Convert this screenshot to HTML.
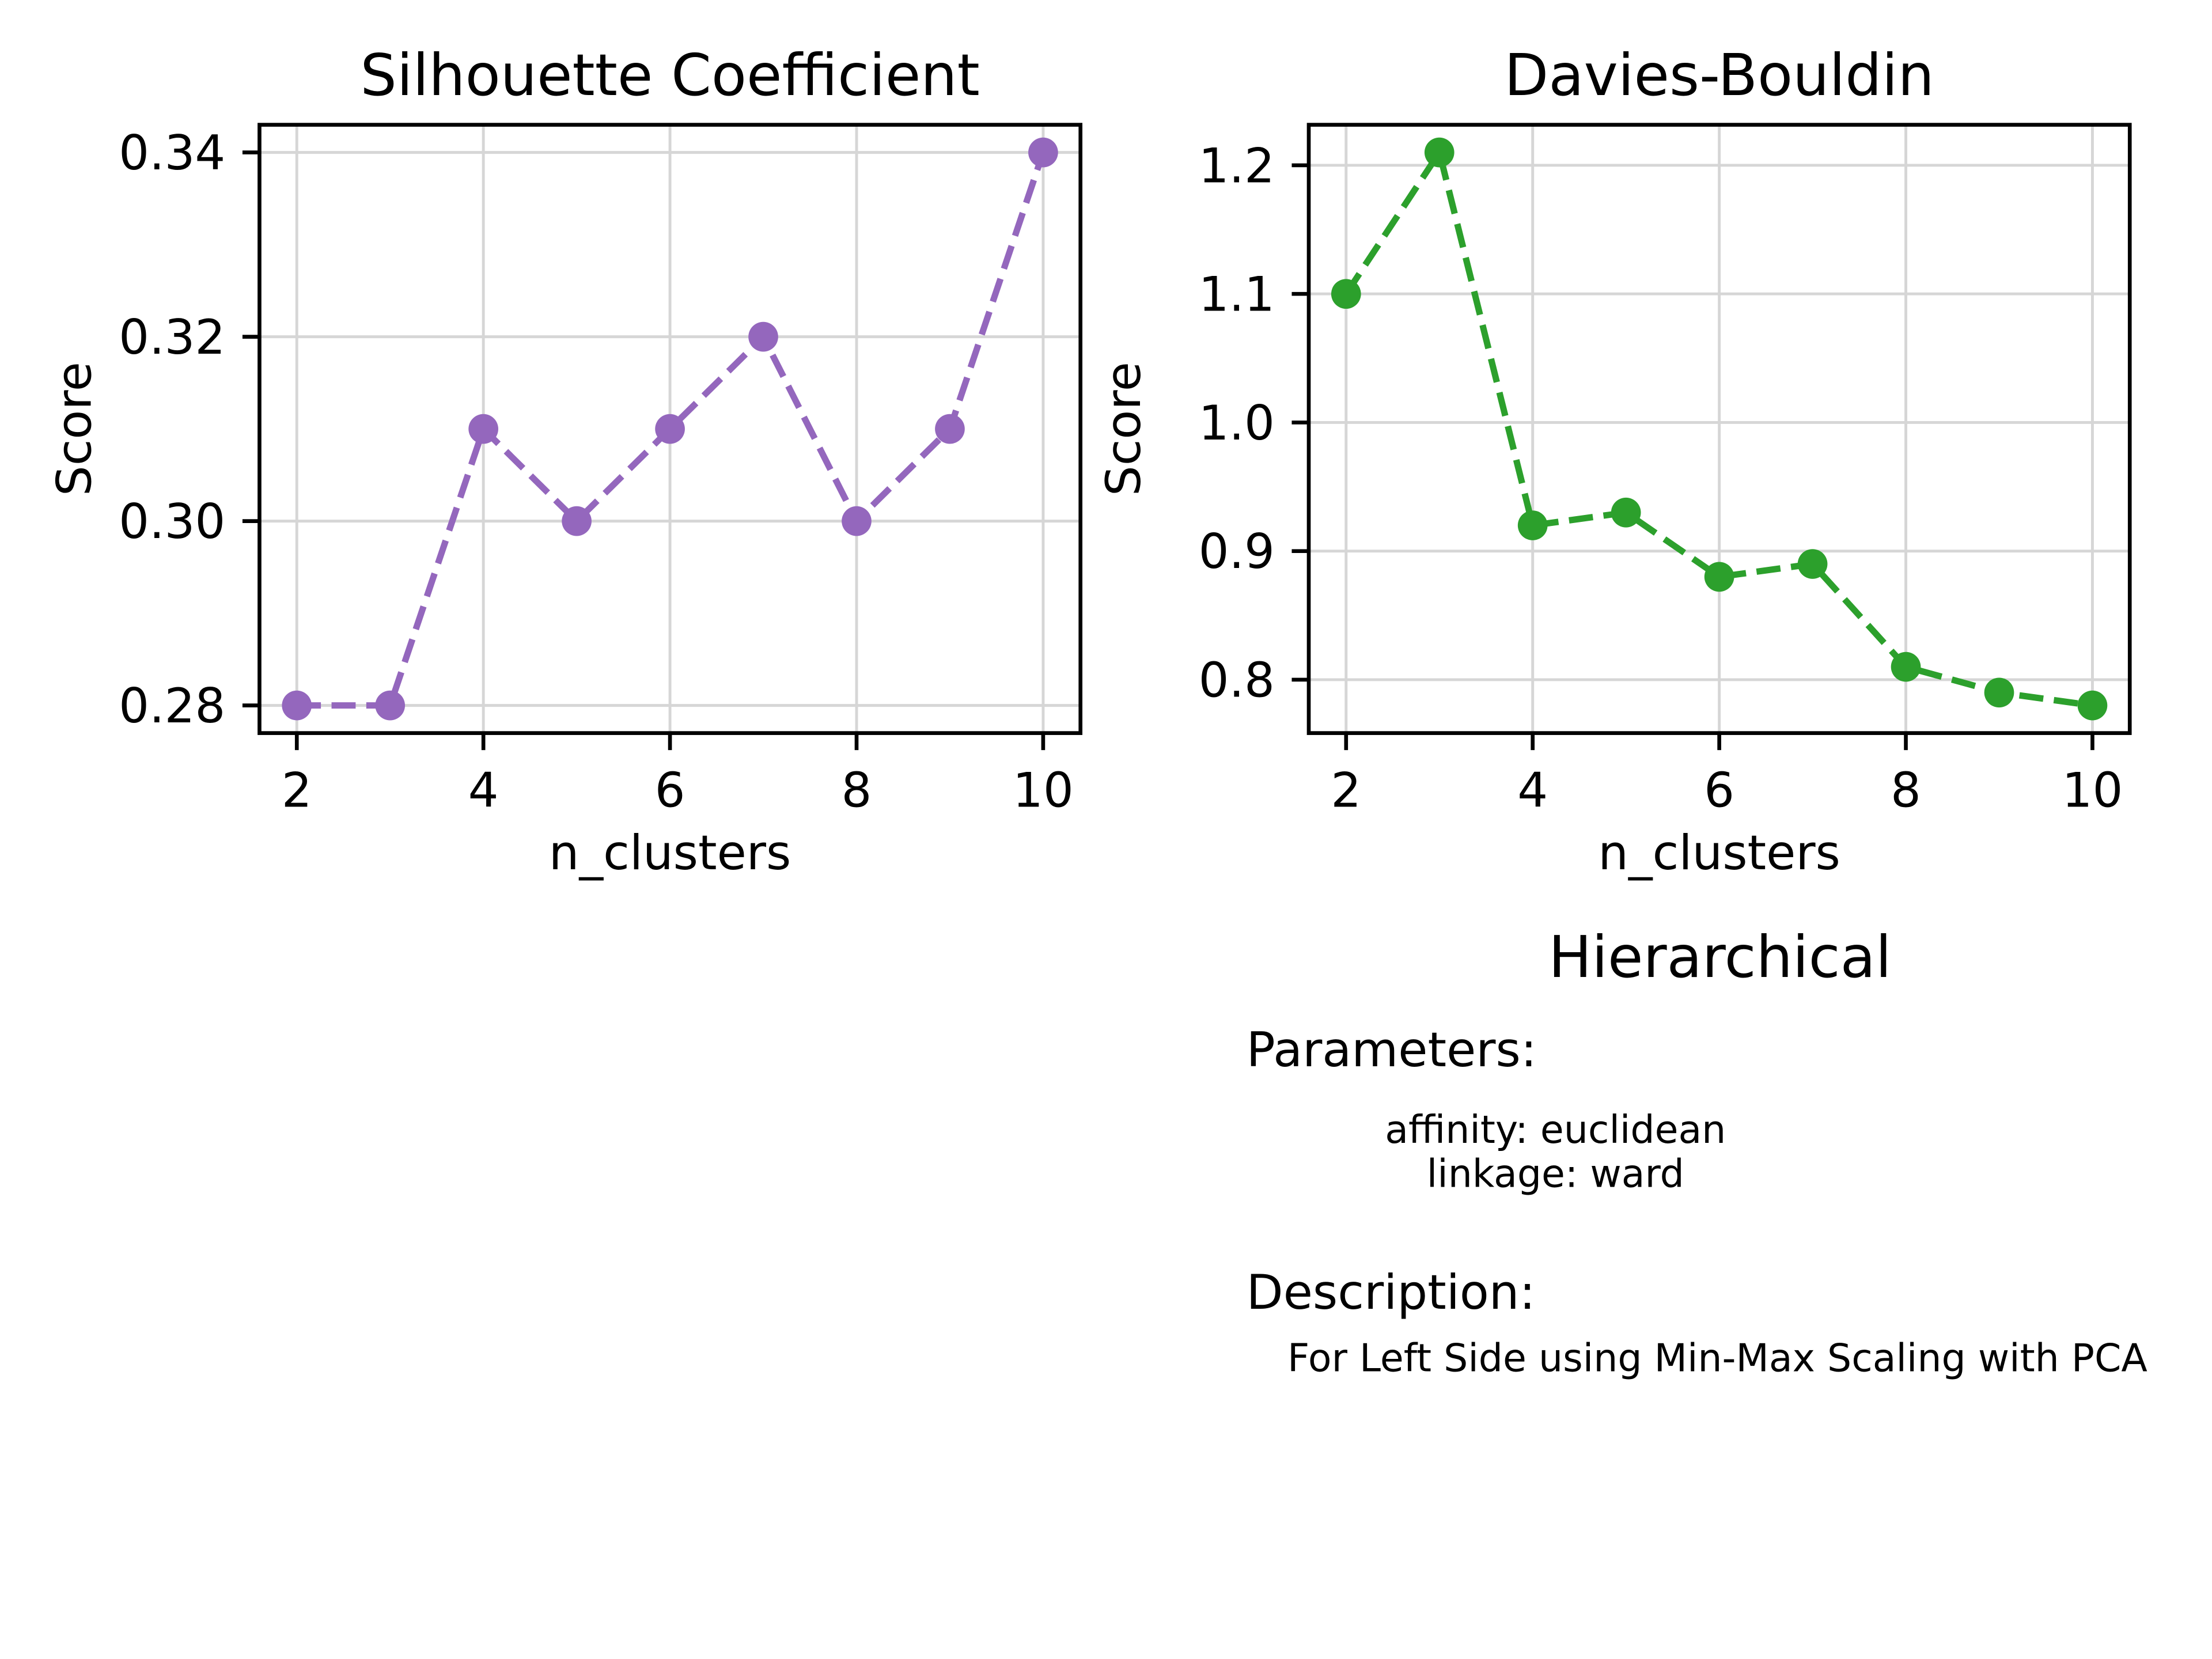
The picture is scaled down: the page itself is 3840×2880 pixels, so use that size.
<!DOCTYPE html>
<html><head><meta charset="utf-8"><style>
html,body{margin:0;padding:0;background:#fff;}
svg{display:block;font-family:"DejaVu Sans","Liberation Sans",sans-serif;}
</style></head><body>
<svg id="fig" width="3840" height="2880" viewBox="0 0 1560 1170" xmlns="http://www.w3.org/2000/svg">
<rect width="1560" height="1170" fill="#fff"/>
<g id="left"></g>
<g id="right"></g>
<text x="1213" y="689" font-size="40.6" text-anchor="middle">Hierarchical</text>
<text x="879" y="752" font-size="33.8">Parameters:</text>
<text x="1097" y="806" font-size="27" text-anchor="middle">affinity: euclidean</text>
<text x="1097" y="837" font-size="27" text-anchor="middle">linkage: ward</text>
<text x="879" y="923" font-size="33.8">Description:</text>
<text x="908" y="967" font-size="27">For Left Side using Min-Max Scaling with PCA</text>
</svg>
<script>
const clusters = [2,3,4,5,6,7,8,9,10];
const silhouetteValues = [0.28,0.28,0.31,0.30,0.31,0.32,0.30,0.31,0.34];
const daviesValues = [1.10,1.21,0.92,0.93,0.88,0.89,0.81,0.79,0.78];
const xTicks = [2,4,6,8,10];
const silTicks = [0.28,0.30,0.32,0.34];
const silTickLabels = ["0.28","0.30","0.32","0.34"];
const dbTicks = [0.8,0.9,1.0,1.1,1.2];
const dbTickLabels = ["0.8","0.9","1.0","1.1","1.2"];

const NS = "http://www.w3.org/2000/svg";
function mk(parent, tag, attrs, text){
  const e = document.createElementNS(NS, tag);
  for (const k in attrs) e.setAttribute(k, attrs[k]);
  if (text !== undefined) e.textContent = text;
  parent.appendChild(e);
  return e;
}
function range(vals){
  const mn = Math.min(...vals), mx = Math.max(...vals), p = (mx-mn)*0.05;
  return [mn-p, mx+p];
}
function drawChart(g, x0, x1, y0, y1, xs, ys, yt, ytl, color, title){
  const [xmin,xmax] = range(xs), [ymin,ymax] = range(ys);
  const X = v => x0 + (v-xmin)/(xmax-xmin)*(x1-x0);
  const Y = v => y1 - (v-ymin)/(ymax-ymin)*(y1-y0);
  xTicks.forEach(t=>{
    const l = mk(g,'line',{x1:X(t),x2:X(t),y1:y0,y2:y1,stroke:'#d6d6d6','stroke-width':2});
    
    
  });
  yt.forEach(t=>{
    const l = mk(g,'line',{x1:x0,x2:x1,y1:Y(t),y2:Y(t),stroke:'#d6d6d6','stroke-width':2});
    
    
  });
  const pts = xs.map((v,i)=>X(v)+','+Y(ys[i])).join(' ');
  const pl = mk(g,'polyline',{points:pts,fill:'none',stroke:color,'stroke-width':4.5,'stroke-dasharray':'17 7.5'});
  
  
  xs.forEach((v,i)=>{
    const c = mk(g,'circle',{cx:X(v),cy:Y(ys[i]),r:10.5,fill:color});
    
    
  });
  const fr = mk(g,'rect',{x:x0,y:y0,width:x1-x0,height:y1-y0,fill:'none',stroke:'#000','stroke-width':2.7});
  
  
  xTicks.forEach(t=>{
    mk(g,'line',{x1:X(t),x2:X(t),y1:y1,y2:y1+12,stroke:'#000','stroke-width':2.7});
    const tx = mk(g,'text',{x:X(t),y:y1+52,'font-size':33.8,'text-anchor':'middle'},String(t));
    
    
  });
  yt.forEach((t,i)=>{
    mk(g,'line',{x1:x0-12,x2:x0,y1:Y(t),y2:Y(t),stroke:'#000','stroke-width':2.7});
    const tx = mk(g,'text',{x:x0-24,y:Y(t)+12,'font-size':33.8,'text-anchor':'end'},ytl[i]);
    
    
  });
  const xl = mk(g,'text',{x:(x0+x1)/2,y:y1+96,'font-size':33.8,'text-anchor':'middle'},'n_clusters');
  
  
  const yl = mk(g,'text',{x:0,y:0,'font-size':33.8,'text-anchor':'middle',transform:`translate(${x0-119},${(y0+y1)/2}) rotate(-90)`},'Score');
  
  
  const tt = mk(g,'text',{x:(x0+x1)/2,y:y0-21,'font-size':40.6,'text-anchor':'middle'},title);
  
  
}
drawChart(document.getElementById('left'),183,762,88,517,clusters,silhouetteValues,silTicks,silTickLabels,'#9467bd','Silhouette Coefficient');
drawChart(document.getElementById('right'),923,1502,88,517,clusters,daviesValues,dbTicks,dbTickLabels,'#2ca02c','Davies-Bouldin');
</script>
</body></html>
